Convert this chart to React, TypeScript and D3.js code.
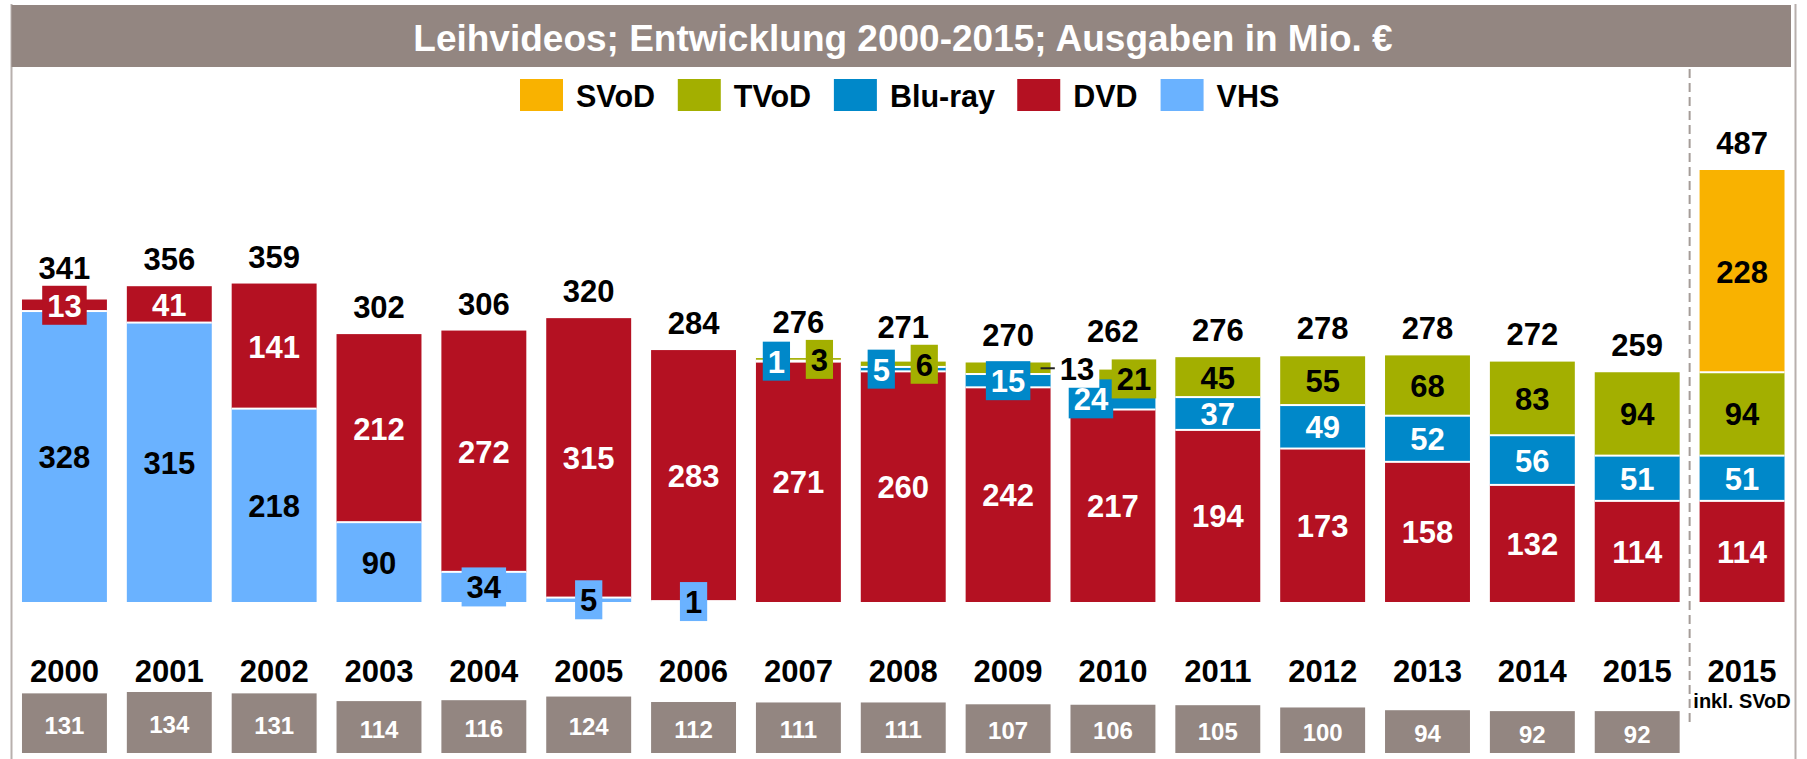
import React from 'react';
import * as d3 from 'd3';

// Leihvideos 2000-2015, Ausgaben in Mio. €
const years = ['2000', '2001', '2002', '2003', '2004', '2005', '2006', '2007', '2008', '2009', '2010', '2011', '2012', '2013', '2014', '2015', '2015 inkl'];
const yearLabels = ['2000', '2001', '2002', '2003', '2004', '2005', '2006', '2007', '2008', '2009', '2010', '2011', '2012', '2013', '2014', '2015', '2015'];
const vhs = [328, 315, 218, 90, 34, 5, 1, 0, 0, 0, 0, 0, 0, 0, 0, 0, 0];
const dvd = [13, 41, 141, 212, 272, 315, 283, 271, 260, 242, 217, 194, 173, 158, 132, 114, 114];
const bluray = [0, 0, 0, 0, 0, 0, 0, 1, 5, 15, 24, 37, 49, 52, 56, 51, 51];
const tvod = [0, 0, 0, 0, 0, 0, 0, 3, 6, 13, 21, 45, 55, 68, 83, 94, 94];
const svod = [0, 0, 0, 0, 0, 0, 0, 0, 0, 0, 0, 0, 0, 0, 0, 0, 228];
const totals = [341, 356, 359, 302, 306, 320, 284, 276, 271, 270, 262, 276, 278, 278, 272, 259, 487];
const grayValues = [131, 134, 131, 114, 116, 124, 112, 111, 111, 107, 106, 105, 100, 94, 92, 92];

const series = [
  { key: 'VHS', values: vhs, color: '#6ab2ff', text: '#000' },
  { key: 'DVD', values: dvd, color: '#b41122', text: '#fff' },
  { key: 'Blu-ray', values: bluray, color: '#0088c9', text: '#fff' },
  { key: 'TVoD', values: tvod, color: '#a3af00', text: '#000' },
  { key: 'SVoD', values: svod, color: '#f9b200', text: '#000' },
];
const legendOrder = ['SVoD', 'TVoD', 'Blu-ray', 'DVD', 'VHS'];

const W = 1807;
const H = 759;
const FONT = '"Liberation Sans", Arial, Helvetica, sans-serif';
const GRAY = '#938681';
const LABEL = 31;
const calloutYear = '2009'; // TVoD label of this bar sits outside, right

const canvas = typeof document !== 'undefined' ? document.createElement('canvas') : null;
function textWidth(s: string, size: number) {
  const ctx = canvas && canvas.getContext('2d');
  if (!ctx) return s.length * size * 0.556;
  ctx.font = `bold ${size}px ${FONT}`;
  return ctx.measureText(s).width;
}

export default function App() {
  const x = d3.scaleBand().domain(years).range([11.5, 1795]).paddingInner(0.19).paddingOuter(0.1);
  const y = d3.scaleLinear().domain([0, d3.max(totals) as number]).range([602, 170]);
  const gh = d3.scaleLinear().domain([0, d3.max(grayValues) as number]).range([0, 61]);

  const rows = years.map((yr, i) => {
    const r: any = { year: yr };
    series.forEach(s => (r[s.key] = s.values[i]));
    return r;
  });
  const stacked = d3.stack().keys(series.map(s => s.key))(rows);
  const bw = x.bandwidth();

  // segment labels, small ones get a box in the series colour
  type Lab = { x: number; y: number; text: string; color: string; box: string | null; w: number; leader?: number[] };
  const labels: Lab[] = [];
  stacked.forEach((layer, si) => {
    const s = series[si];
    layer.forEach((d, i) => {
      const v = s.values[i];
      if (!v) return;
      const yr = years[i];
      const cx = (x(yr) as number) + bw / 2;
      const cy = (y(d[0]) + y(d[1])) / 2;
      const small = v < 35;
      const txt = String(v);
      const w = textWidth(txt, LABEL) + 10;
      let lx = cx;
      let box: string | null = small ? s.color : null;
      let leader: number[] | undefined;
      if (small && (s.key === 'Blu-ray' || s.key === 'TVoD')) {
        const both = bluray[i] > 0 && bluray[i] < 35 && tvod[i] > 0 && tvod[i] < 35;
        if (yr === calloutYear) {
          if (s.key === 'TVoD') {
            const right = (x(yr) as number) + bw;
            lx = right + 26.5;
            box = '#fff';
            leader = [right - 10, right + 5];
          }
        } else if (both) {
          lx = cx + (s.key === 'Blu-ray' ? -22 : 21);
        }
      }
      labels.push({ x: lx, y: cy, text: txt, color: s.text, box, w, leader });
    });
  });

  const totalLabels = years.map((yr, i) => {
    const cx = (x(yr) as number) + bw / 2;
    let base = y(totals[i]) - 16;
    const tw = textWidth(String(totals[i]), LABEL);
    labels.forEach(l => {
      if (!l.box) return;
      if (l.x + l.w / 2 < cx - tw / 2 || l.x - l.w / 2 > cx + tw / 2) return;
      if (l.y > y(totals[i]) + 40) return;
      base = Math.min(base, l.y - 19.5 - 7);
    });
    return { x: cx, y: base, text: String(totals[i]) };
  });

  // legend layout
  let lx = 520;
  const legend = legendOrder.map(k => {
    const s = series.find(d => d.key === k)!;
    const item = { key: k, color: s.color, x: lx, tx: lx + 56 };
    lx = lx + 56 + textWidth(k, 30) + 24;
    return item;
  });

  const boundaries: { x: number; y: number }[] = [];
  years.forEach((yr, i) => {
    let acc = 0;
    let started = false;
    series.forEach(s => {
      const v = s.values[i];
      if (!v) return;
      if (started) boundaries.push({ x: x(yr) as number, y: y(acc) });
      acc += v;
      started = true;
    });
  });

  const dashX = ((x('2015') as number) + bw + (x('2015 inkl') as number)) / 2;

  return (
    <svg width={W} height={H} style={{ position: 'absolute', left: 0, top: 0 }} fontFamily={FONT} fontWeight="bold">
      <rect width={W} height={H} fill="#fff" />
      <line x1={11.5} x2={11.5} y1={4} y2={H} stroke="#b8b0ad" strokeWidth={2} />
      <line x1={1795.5} x2={1795.5} y1={4} y2={H} stroke="#b8b0ad" strokeWidth={2} />
      <rect x={11.5} y={5} width={1779.5} height={62} fill={GRAY} />
      <text x={903} y={50.5} fill="#fff" fontSize={37} textAnchor="middle">
        Leihvideos; Entwicklung 2000-2015; Ausgaben in Mio. €
      </text>

      {legend.map(l => (
        <g key={l.key}>
          <rect x={l.x} y={79} width={43} height={32} fill={l.color} />
          <text x={l.tx} y={107.3} fontSize={30.5} fill="#000">{l.key}</text>
        </g>
      ))}

      <line x1={dashX} x2={dashX} y1={69} y2={722} stroke="#a59c98" strokeWidth={2} strokeDasharray="9 5" />

      {stacked.map((layer, si) => (
        <g key={series[si].key} fill={series[si].color}>
          {layer.map((d, i) =>
            d[1] - d[0] > 0 ? (
              <rect key={i} x={x(years[i])} y={y(d[1])} width={bw} height={y(d[0]) - y(d[1])} />
            ) : null
          )}
        </g>
      ))}
      {boundaries.map((b, i) => (
        <rect key={i} x={b.x} y={b.y - 1} width={bw} height={2} fill="#fff" />
      ))}

      {labels.map((l, i) => (
        <g key={i}>
          {l.leader && <line x1={l.leader[0]} x2={l.leader[1]} y1={l.y} y2={l.y} stroke="#222" strokeWidth={2} />}
          {l.box && <rect x={l.x - l.w / 2} y={l.y - 19.5} width={l.w} height={39} fill={l.box} />}
          <text x={l.x} y={l.y + 1} fontSize={LABEL} fill={l.color} textAnchor="middle" dominantBaseline="central">
            {l.text}
          </text>
        </g>
      ))}

      {totalLabels.map((t, i) => (
        <text key={i} x={t.x} y={t.y} fontSize={LABEL} fill="#000" textAnchor="middle">{t.text}</text>
      ))}

      {years.map((yr, i) => (
        <text key={yr} x={(x(yr) as number) + bw / 2} y={682} fontSize={31} fill="#000" textAnchor="middle">
          {yearLabels[i]}
        </text>
      ))}
      <text x={(x('2015 inkl') as number) + bw / 2} y={708} fontSize={20} fill="#000" textAnchor="middle">
        inkl. SVoD
      </text>

      {grayValues.map((v, i) => {
        const bx = x(years[i]) as number;
        const h = gh(v);
        return (
          <g key={i}>
            <rect x={bx} y={753 - h} width={bw} height={h} fill={GRAY} />
            <text x={bx + bw / 2} y={753 - h / 2 + 2} fontSize={24} fill="#fff" textAnchor="middle" dominantBaseline="central">
              {v}
            </text>
          </g>
        );
      })}
    </svg>
  );
}
